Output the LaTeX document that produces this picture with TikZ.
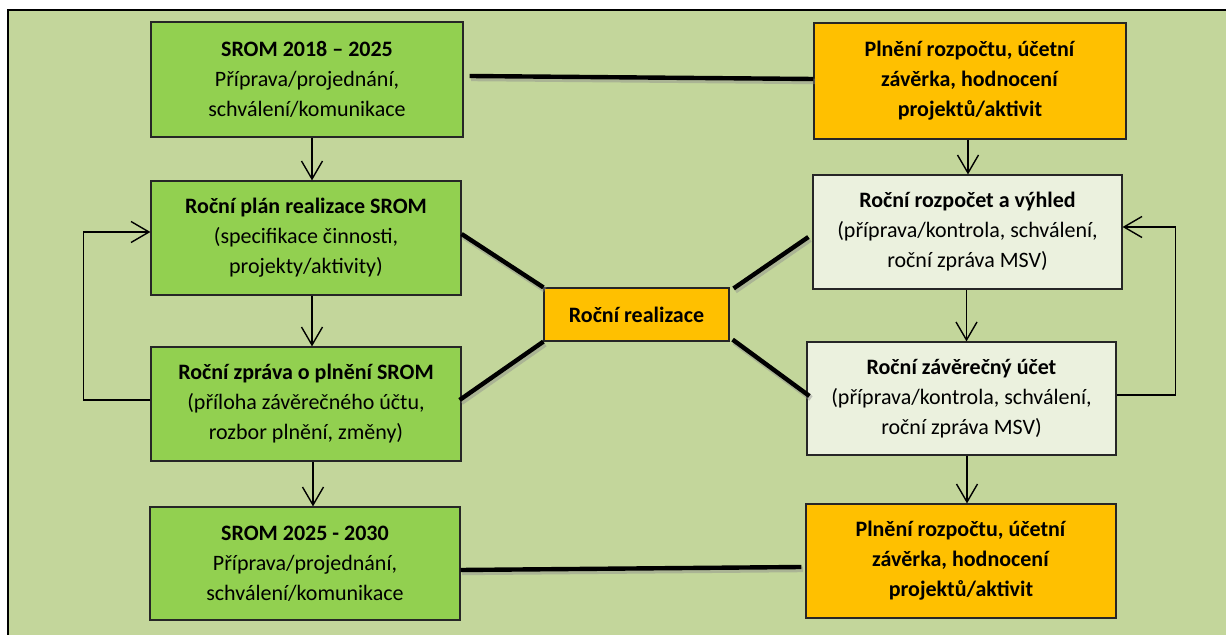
\documentclass[tikz,border=0pt]{standalone}
\usepackage{fontspec}
\setmainfont{Carlito}
\usetikzlibrary{calc,arrows.meta}
\definecolor{bgolive}{HTML}{C3D69B}
\definecolor{boxgreen}{HTML}{92D050}
\definecolor{boxorange}{HTML}{FFC000}
\definecolor{boxpale}{HTML}{EBF1DE}
\tikzset{
  box/.style={draw=black!85, line width=0.6pt, align=center, inner sep=0pt,
    font=\fontsize{11}{15}\selectfont},
  gbox/.style={box, fill=boxgreen},
  obox/.style={box, fill=boxorange},
  pbox/.style={box, fill=boxpale},
  thickline/.style={line width=2.2pt, black, line cap=butt,
    preaction={draw=black!45, opacity=0.45, line width=2.8pt,
      transform canvas={shift={(0.8pt,-1.2pt)}}}},
  flow/.style={line width=0.7pt, -{Straight Barb[length=9pt,width=10.5pt]}},
  loopline/.style={line width=0.7pt}
}
\begin{document}
\begin{tikzpicture}[x=0.5pt,y=-0.5pt]
\clip (0,0) rectangle (1226,635);
\useasboundingbox (0,0) rectangle (1226,635);
\fill[white] (0,0) rectangle (1226,635);
\draw[fill=bgolive, line width=1pt] (8,10) rectangle (1250,660);

% left column
\node[gbox, minimum width=156pt, minimum height=57.5pt] (srom1) at (307,79.5)
  {\textbf{SROM 2018 – 2025}\\Příprava/projednání,\\schválení/komunikace};
\node[gbox, minimum width=155pt, minimum height=57pt] (plan) at (306,238)
  {\textbf{Roční plán realizace SROM}\\(specifikace činnosti,\\projekty/aktivity)};
\node[gbox, minimum width=155pt, minimum height=57pt] (zprava) at (306,404)
  {\textbf{Roční zpráva o plnění SROM}\\(příloha závěrečného účtu,\\rozbor plnění, změny)};
\node[gbox, minimum width=155pt, minimum height=56.5pt] (srom2) at (305,563.5)
  {\textbf{SROM 2025 - 2030}\\Příprava/projednání,\\schválení/komunikace};

% right column
\node[obox, minimum width=156pt, minimum height=58pt] (plneni1) at (970,81)
  {\textbf{Plnění rozpočtu, účetní}\\\textbf{závěrka, hodnocení}\\\textbf{projektů/aktivit}};
\node[pbox, minimum width=154.5pt, minimum height=57pt] (rozpocet) at (967.5,232)
  {\textbf{Roční rozpočet a výhled}\\(příprava/kontrola, schválení,\\roční zpráva MSV)};
\node[pbox, minimum width=154.5pt, minimum height=56.5pt] (zaverecny) at (961.5,398.5)
  {\textbf{Roční závěrečný účet}\\(příprava/kontrola, schválení,\\roční zpráva MSV)};
\node[obox, minimum width=155pt, minimum height=57pt] (plneni2) at (961,561)
  {\textbf{Plnění rozpočtu, účetní}\\\textbf{závěrka, hodnocení}\\\textbf{projektů/aktivit}};

% centre
\node[obox, minimum width=92.5pt, minimum height=26.5pt] (realizace) at (636.5,314.5)
  {\textbf{Roční realizace}};

% thick connectors
\draw[thickline] ($(srom1.east)+(6,-3.5)$) -- ($(plneni1.west)+(0,-2)$);
\draw[thickline] ($(srom2.east)+(0,6.5)$) -- ($(plneni2.west)+(-4,6)$);
\draw[thickline] ($(plan.east)+(0,-4)$) -- (realizace.north west);
\draw[thickline] ($(zprava.east)+(-2,-4)$) -- (realizace.south west);
\draw[thickline] ($(realizace.north east)+(4,1)$) -- ($(rozpocet.west)+(-4,5)$);
\draw[thickline] ($(realizace.south east)+(3,-2)$) -- ($(zaverecny.west)+(3,-2.5)$);

% flow arrows
\draw[flow] ($(srom1.south)+(5,0)$) -- ($(plan.north)+(6,0)$);
\draw[flow] ($(plan.south)+(6,0)$) -- ($(zprava.north)+(6,0)$);
\draw[flow] ($(zprava.south)+(7,0)$) -- ($(srom2.north)+(8,0)$);
\draw[flow] ($(plneni1.south)+(-2,0)$) -- ($(rozpocet.north)+(0.5,0)$);
\draw[flow] ($(rozpocet.south)+(-1,0)$) -- ($(zaverecny.north)+(5,0)$);
\draw[flow] ($(zaverecny.south)+(5.5,0)$) -- ($(plneni2.north)+(6,0)$);

% feedback loops
\draw[flow] ($(zprava.west)+(0,-4)$) -- ++(-67,0) |- ($(plan.west)+(0,-6)$);
\draw[flow] ($(zaverecny.east)+(0,-3.5)$) -- ++(59,0) |- ($(rozpocet.east)+(0,-5)$);
\end{tikzpicture}
\end{document}
